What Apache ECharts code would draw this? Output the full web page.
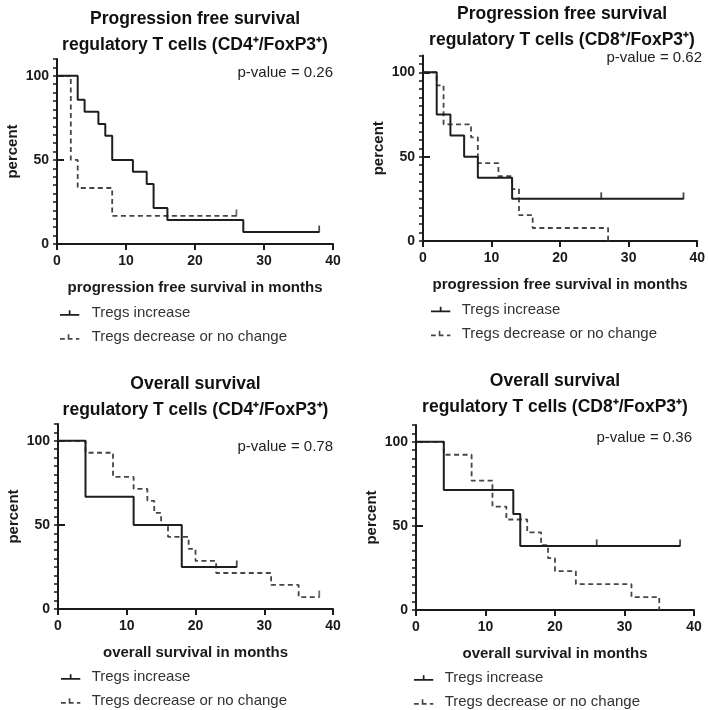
<!DOCTYPE html>
<html><head><meta charset="utf-8">
<script src="https://cdn.jsdelivr.net/npm/echarts@6/dist/echarts.min.js"></script>
<style>html,body{margin:0;padding:0;background:#fff}#c{width:708px;height:710px}</style>
</head><body><div id="c"></div>
<script>
// ---------- text ----------
const seriesNames = ['Tregs increase', 'Tregs decrease or no change'];
const panelTitles = [
  'Progression free survival\nregulatory T cells (CD4\u207A/FoxP3\u207A)',
  'Progression free survival\nregulatory T cells (CD8\u207A/FoxP3\u207A)',
  'Overall survival\nregulatory T cells (CD4\u207A/FoxP3\u207A)',
  'Overall survival\nregulatory T cells (CD8\u207A/FoxP3\u207A)'
];
const pValues = ['p-value = 0.26', 'p-value = 0.62', 'p-value = 0.78', 'p-value = 0.36'];
const xAxisNames = ['progression free survival in months', 'progression free survival in months',
  'overall survival in months', 'overall survival in months'];
const yAxisName = 'percent';
const xTickLabels = [0, 10, 20, 30, 40];
const yTickLabels = [0, 50, 100];

// ---------- data (Kaplan-Meier steps: time, percent) ----------
// Panel 1: PFS CD4+/FoxP3+
const pfsCD4IncT = [0, 3, 4, 6, 7, 8, 11, 13, 14, 16, 27, 38];
const pfsCD4IncS = [100, 85.7, 78.6, 71.4, 64.3, 50, 42.9, 35.7, 21.4, 14.3, 7.1, 7.1];
const pfsCD4IncCens = [38];
const pfsCD4DecT = [0, 2, 3, 8, 26];
const pfsCD4DecS = [100, 50, 33.3, 16.7, 16.7];
const pfsCD4DecCens = [26];
// Panel 2: PFS CD8+/FoxP3+
const pfsCD8IncT = [0, 2, 4, 6, 8, 13, 38];
const pfsCD8IncS = [100, 75, 62.5, 50, 37.5, 25, 25];
const pfsCD8IncCens = [26, 38];
const pfsCD8DecT = [0, 2, 3, 7, 8, 11, 13, 14, 16, 27];
const pfsCD8DecS = [100, 92.3, 69.2, 61.5, 46.2, 38.5, 30.8, 15.4, 7.7, 0];
const pfsCD8DecCens = [];
// Panel 3: OS CD4+/FoxP3+
const osCD4IncT = [0, 4, 11, 18, 26];
const osCD4IncS = [100, 66.7, 50, 25, 25];
const osCD4IncCens = [26];
const osCD4DecT = [0, 4, 8, 11, 13, 14, 15, 16, 19, 20, 23, 31, 35, 38];
const osCD4DecS = [100, 92.9, 78.6, 71.4, 64.3, 57.1, 50, 42.9, 35.7, 28.6, 21.4, 14.3, 7.1, 7.1];
const osCD4DecCens = [38];
// Panel 4: OS CD8+/FoxP3+
const osCD8IncT = [0, 4, 14, 15, 38];
const osCD8IncS = [100, 71.4, 57.1, 38.1, 38.1];
const osCD8IncCens = [26, 38];
const osCD8DecT = [0, 4, 8, 11, 13, 16, 18, 19, 20, 23, 31, 35];
const osCD8DecS = [100, 92.3, 76.9, 61.5, 53.8, 46.2, 38.5, 30.8, 23.1, 15.4, 7.7, 0];
const osCD8DecCens = [];

const panels = [
  {inc: [pfsCD4IncT, pfsCD4IncS, pfsCD4IncCens], dec: [pfsCD4DecT, pfsCD4DecS, pfsCD4DecCens]},
  {inc: [pfsCD8IncT, pfsCD8IncS, pfsCD8IncCens], dec: [pfsCD8DecT, pfsCD8DecS, pfsCD8DecCens]},
  {inc: [osCD4IncT, osCD4IncS, osCD4IncCens], dec: [osCD4DecT, osCD4DecS, osCD4DecCens]},
  {inc: [osCD8IncT, osCD8IncS, osCD8IncCens], dec: [osCD8DecT, osCD8DecS, osCD8DecCens]}
];

// ---------- layout ----------
const layouts = [
  {grid: {left: 57, top: 59, width: 276, height: 185}, titleTop: 6, pv: [333, 73], legend: [60, 305], pad: 7},
  {grid: {left: 423, top: 55.5, width: 278, height: 185.5}, titleTop: 1, pv: [702, 58], legend: [431, 301.5], pad: 6},
  {grid: {left: 58, top: 424, width: 275, height: 185}, titleTop: 371, pv: [333, 447], legend: [61, 669], pad: 6},
  {grid: {left: 416, top: 425, width: 278, height: 185}, titleTop: 368, pv: [692, 438], legend: [414, 670], pad: 6}
];

const FONT = '"Liberation Sans", Arial, Helvetica, sans-serif';
const INK = '#1a1a1a';
const SOLID = '#1e1e1e';
const DASH = '#454545';

function stepValue(ts, ss, t) {
  let v = ss[0];
  for (let i = 0; i < ts.length; i++) if (ts[i] <= t) v = ss[i];
  return v;
}

const iconSolid = 'path://M0,4.4h20v1.8h-20z M9.1,0.5h1.8v4h-1.8z';
const iconDash = 'path://M0,4.4h5v1.8h-5z M8,4.4h5v1.8h-5z M8,0.5h1.7v4h-1.7z M16.5,4.4h3.5v1.8h-3.5z';

const option = {
  animation: false,
  backgroundColor: '#fff',
  grid: [], xAxis: [], yAxis: [], series: [], legend: [], graphic: []
};

layouts.forEach((L, i) => {
  option.grid.push(Object.assign({containLabel: false}, L.grid));
  option.xAxis.push({
    type: 'value', gridIndex: i, min: xTickLabels[0], max: xTickLabels[xTickLabels.length - 1], interval: 10,
    name: xAxisNames[i], nameLocation: 'middle', nameGap: 36,
    nameTextStyle: {fontFamily: FONT, fontWeight: 'bold', fontSize: 15, color: INK},
    axisLine: {show: true, onZero: false, lineStyle: {color: INK, width: 2}},
    axisTick: {show: true, inside: false, length: 6, lineStyle: {color: INK, width: 2}},
    axisLabel: {fontFamily: FONT, fontWeight: 'bold', fontSize: 14, color: INK, margin: 10},
    splitLine: {show: false}
  });
  // main y axis with minor ticks every 5
  option.yAxis.push({
    type: 'value', gridIndex: i, min: 0, max: 110, interval: 5,
    name: yAxisName, nameLocation: 'middle', nameGap: 37,
    nameTextStyle: {fontFamily: FONT, fontWeight: 'bold', fontSize: 15, color: INK},
    axisLine: {show: true, onZero: false, lineStyle: {color: INK, width: 2}},
    axisTick: {show: true, length: 4, lineStyle: {color: INK, width: 1.5}},
    axisLabel: {fontFamily: FONT, fontWeight: 'bold', fontSize: 14, color: INK, margin: 8, interval: 0,
      formatter: v => (yTickLabels.indexOf(v) >= 0 ? String(v) : '')},
    splitLine: {show: false}
  });
  // major ticks
  option.yAxis.push({
    type: 'value', gridIndex: i, min: 0, max: 110, interval: 50,
    axisLine: {show: false},
    axisTick: {show: true, length: 7, lineStyle: {color: INK, width: 2}, customValues: yTickLabels},
    axisLabel: {show: false}, splitLine: {show: false}
  });

  const P = panels[i];
  [['dec', 1], ['inc', 0]].forEach(([key, si]) => {
    const [ts, ss, cens] = P[key];
    const color = si === 0 ? SOLID : DASH;
    option.series.push({
      type: 'line', name: seriesNames[si], xAxisIndex: i, yAxisIndex: 2 * i, step: 'end',
      data: ts.map((t, k) => [t, ss[k]]), showSymbol: false, symbol: 'none',
      lineStyle: {color, width: si === 0 ? 2 : 1.8, type: si === 0 ? 'solid' : [5, 3.5]},
      itemStyle: {color}, z: si === 0 ? 4 : 3
    });
    if (cens.length) {
      option.series.push({
        type: 'scatter', name: seriesNames[si] + ' censored', xAxisIndex: i, yAxisIndex: 2 * i,
        data: cens.map(t => [t, stepValue(ts, ss, t)]),
        symbol: 'rect', symbolSize: [1.8, 7], symbolOffset: [0, -3],
        itemStyle: {color}, z: 5
      });
    }
  });

  option.legend.push({
    left: L.legend[0], top: L.legend[1], orient: 'vertical', itemGap: 8, padding: 0,
    width: 300, height: 60,
    itemWidth: 20, itemHeight: 5.5, selectedMode: false,
    data: [{name: seriesNames[0], icon: iconSolid}, {name: seriesNames[1], icon: iconDash}],
    textStyle: {fontFamily: FONT, fontSize: 15, color: '#333', lineHeight: 16, padding: [0, 0, 0, L.pad]}
  });

  const cx = L.grid.left + L.grid.width / 2;
  option.graphic.push({
    type: 'text', x: cx, y: L.titleTop,
    style: {text: panelTitles[i], fill: '#111', font: 'bold 17.5px ' + FONT,
      textAlign: 'center', textVerticalAlign: 'top', lineHeight: 26}
  });
  option.graphic.push({
    type: 'text', x: L.pv[0], y: L.pv[1],
    style: {text: pValues[i], fill: '#222', font: '15px ' + FONT,
      textAlign: 'right', textVerticalAlign: 'middle'}
  });
});

const chart = echarts.init(document.getElementById('c'), null, {renderer: 'canvas'});
chart.setOption(option);
</script>
</body></html>
